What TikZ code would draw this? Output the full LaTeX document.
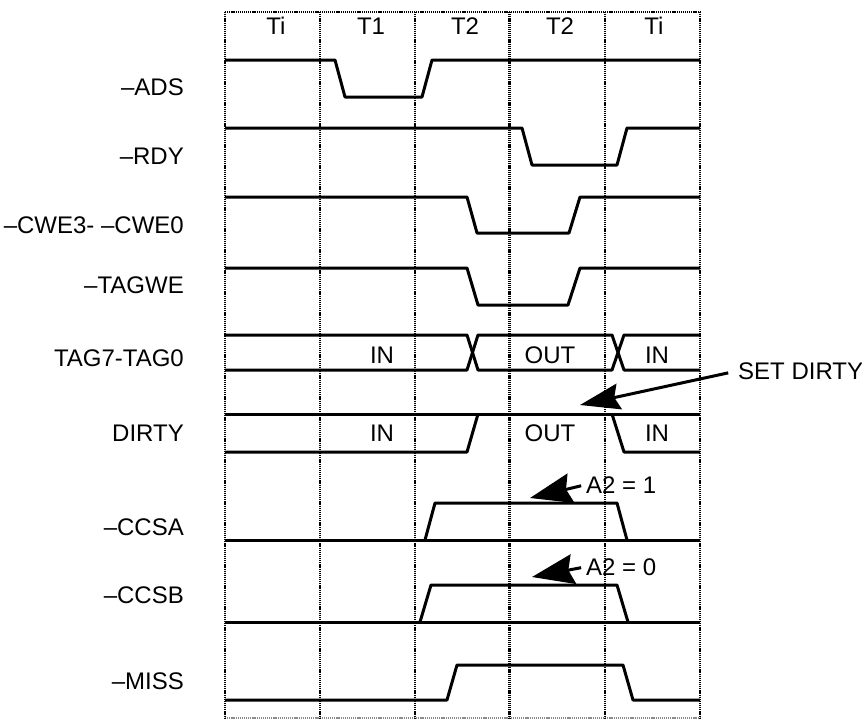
\documentclass[tikz,border=0pt]{standalone}
\usepackage{fontspec}
\setmainfont{Liberation Sans}
\usetikzlibrary{arrows.meta}

\begin{document}
\begin{tikzpicture}[x=1pt,y=-1pt]
    \tikzstyle{grid}       = [line width=2.8pt, dash pattern=on 1.2pt off 0.9pt]
    \tikzstyle{thin grid}  = [grid, line width=2pt]
    \tikzstyle{faint grid} = [grid, line width=1.4pt, black!45]
    \tikzstyle{signal}     = [line width=3pt, line join=round]
    \tikzstyle{signame}    = [anchor=base east, inner sep=0pt, font=\fontsize{24}{28}\selectfont]
    \tikzstyle{value}      = [anchor=base, inner sep=0pt, font=\fontsize{24}{28}\selectfont]
    \tikzstyle{pointer}    = [line width=3pt]

    \useasboundingbox (0,0) rectangle (862,721);

    \draw[grid]       (225,12) -- (700,12);
    \draw[faint grid] (225,718) -- (700,718);
    \draw[grid]       (225,12) -- (225,718);
    \draw[grid]       (320,12) -- (320,718);
    \draw[thin grid]  (414.5,12) -- (414.5,718);
    \draw[grid]       (509.5,12) -- (509.5,718);
    \draw[thin grid]  (605,12) -- (605,718);
    \draw[grid]       (700,12) -- (700,718);

    \node[value] (c1) at (276,34) {Ti};
    \node[value] (c2) at (371,34) {T1};
    \node[value] (c3) at (465,34) {T2};
    \node[value] (c4) at (560,34) {T2};
    \node[value] (c5) at (654,34) {Ti};

    \node[signame] (ads)   at (184,95)  {--ADS};
    \node[signame] (rdy)   at (184,164) {--RDY};
    \node[signame] (cwe)   at (184,233) {--CWE3- --CWE0};
    \node[signame] (tagwe) at (184,293) {--TAGWE};
    \node[signame] (tag)   at (184,366) {TAG7-TAG0};
    \node[signame] (dirty) at (184,441) {DIRTY};
    \node[signame] (ccsa)  at (184,535) {--CCSA};
    \node[signame] (ccsb)  at (184,603) {--CCSB};
    \node[signame] (miss)  at (184,689) {--MISS};

    \draw[signal] (225,60)--(335,60)--(345,97)--(422,97)--(432,60)--(700,60);
    \draw[signal] (225,128)--(522,128)--(532,165)--(617,165)--(627,128)--(700,128);
    \draw[signal] (225,197)--(467,197)--(477,233)--(569,233)--(580,197)--(700,197);
    \draw[signal] (225,268)--(467,268)--(478,305)--(568,305)--(580,268)--(700,268);

    \draw[signal] (225,335)--(467,335)--(478,370)--(612,370)--(624,335)--(700,335);
    \draw[signal] (225,370)--(467,370)--(478,335)--(612,335)--(624,370)--(700,370);
    \node[value] (tagin)  at (382,363) {IN};
    \node[value] (tagout) at (550,363) {OUT};
    \node[value] (tagin2) at (657,363) {IN};

    \draw[signal] (225,414)--(700,414);
    \draw[signal] (225,452)--(467,452)--(478,414);
    \draw[signal] (612,414)--(624,452)--(700,452);
    \node[value] (dirtyin)  at (382,441) {IN};
    \node[value] (dirtyout) at (550,441) {OUT};
    \node[value] (dirtyin2) at (657,441) {IN};

    \draw[signal] (225,540)--(700,540);
    \draw[signal] (425,540)--(435,503)--(617,503)--(627,540);
    \draw[signal] (225,622)--(700,622);
    \draw[signal] (420,622)--(431,585)--(617,585)--(628,622);
    \draw[signal] (225,700)--(447,700)--(457,665)--(623,665)--(633,700)--(700,700);

    \node[value, anchor=base west] (setdirty) at (738,379) {SET DIRTY};
    \node[value, anchor=base west] (aone)     at (586,493) {A2 = 1};
    \node[value, anchor=base west] (azero)    at (586,575) {A2 = 0};
    \coordinate (dirtytip) at (580,405);
    \coordinate (aonetip)  at (530,498);
    \coordinate (azerotip) at (532,577);

    \draw[pointer, -{Stealth[length=40pt, width=26pt, inset=5pt]}, shorten <=10pt] (setdirty.west) -- (dirtytip);
    \draw[pointer, -{Stealth[length=42pt, width=30pt, inset=5pt]}, shorten <=5pt]  (aone.west) -- (aonetip);
    \draw[pointer, -{Stealth[length=42pt, width=30pt, inset=5pt]}, shorten <=5pt]  (azero.west) -- (azerotip);
\end{tikzpicture}
\end{document}
